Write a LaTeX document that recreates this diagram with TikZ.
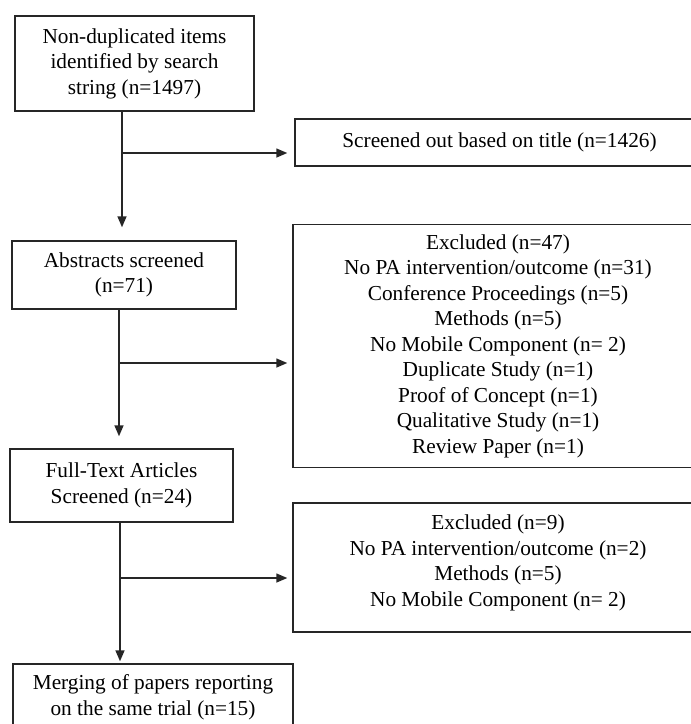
\documentclass[tikz,border=0pt]{standalone}
\usepackage{fontspec}
\setmainfont{Liberation Serif}
\usetikzlibrary{arrows.meta}
\tikzset{
  every picture/.style={line join=miter, >={Triangle[length=11pt,width=9pt]}},
  box/.style={draw=black!85, line width=1.4pt, inner sep=0pt, align=center,
    font=\fontsize{21.3}{25.5}\selectfont},
  arr/.style={->, draw=black!85, line width=1.4pt},
}
\begin{document}
\begin{tikzpicture}[x=1pt,y=-1pt]
\useasboundingbox(0,0)rectangle(691,724);
\clip(0,0)rectangle(691,724);
% left column
\node[box,minimum width=239pt,minimum height=95pt](search)at(134.5,63.5){Non-duplicated items\\identified by search\\string (n=1497)};
\node[box,minimum width=224pt,minimum height=68pt](abstracts)at(124,275){Abstracts screened\\(n=71)};
\node[box,minimum width=223pt,minimum height=73pt](fulltext)at(121.5,485.5){Full-Text Articles\\Screened (n=24)};
\node[box,minimum width=280pt,minimum height=67pt](merge)at(153,697.5){Merging of papers reporting\\on the same trial (n=15)};
% right column
\node[box,minimum width=409pt,minimum height=47pt](title)at(499.5,142.5){Screened out based on title (n=1426)};
\node[box,minimum width=410pt,minimum height=243pt](excla)at(498,346){Excluded (n=47)\\No PA intervention/outcome (n=31)\\Conference Proceedings (n=5)\\Methods (n=5)\\No Mobile Component (n= 2)\\Duplicate Study (n=1)\\Proof of Concept (n=1)\\Qualitative Study (n=1)\\Review Paper (n=1)};
\node[box,minimum width=410pt,minimum height=129pt,text depth=14pt](exclb)at(498,567.5){Excluded (n=9)\\No PA intervention/outcome (n=2)\\Methods (n=5)\\No Mobile Component (n= 2)};
% connectors
\coordinate(b1)at(122,153);
\coordinate(b2)at(119,363);
\coordinate(b3)at(120,578);
\draw[arr,shorten >=13pt](b1 |- search.south)--(b1 |- abstracts.north);
\draw[arr,shorten >=7pt](b1)--(b1 -| title.west);
\draw[arr,shorten >=12pt](b2 |- abstracts.south)--(b2 |- fulltext.north);
\draw[arr,shorten >=5pt](b2)--(b2 -| excla.west);
\draw[arr,shorten >=2pt](b3 |- fulltext.south)--(b3 |- merge.north);
\draw[arr,shorten >=5pt](b3)--(b3 -| exclb.west);
\end{tikzpicture}
\end{document}
